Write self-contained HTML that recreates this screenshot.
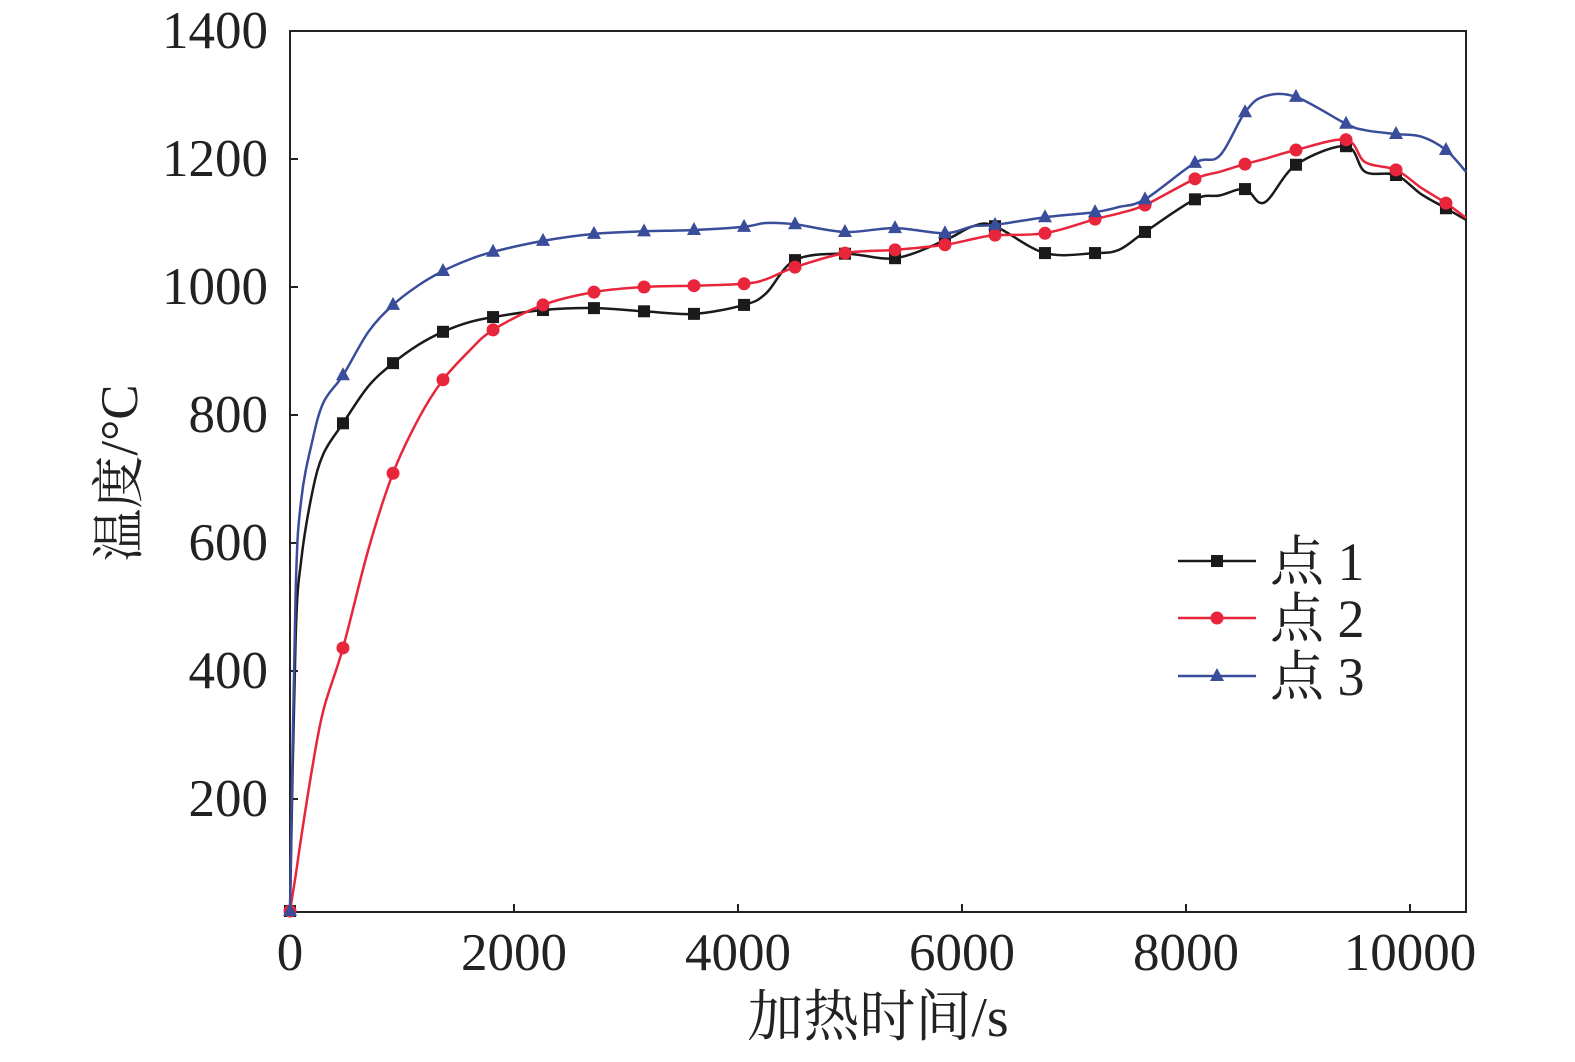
<!DOCTYPE html>
<html><head><meta charset="utf-8"><style>
html,body{margin:0;padding:0;background:#fff}
svg text{font-family:"Liberation Serif","Noto Serif CJK SC",serif;fill:#222}
</style></head><body>
<svg id="chart" width="1575" height="1057" viewBox="0 0 1575 1057" xmlns="http://www.w3.org/2000/svg">
<g id="axes"></g><g id="series"></g><g id="legend"></g>
</svg>
<script>
const xTicks=[0,2000,4000,6000,8000,10000];
const yTicks=[200,400,600,800,1000,1200,1400];
const seriesNames=["点 1","点 2","点 3"];
const seriesColors=["#1a1a1a","#e8253a","#3a4d9a"];
const markerTimes=[0,473,920,1366,1813,2259,2714,3161,3607,4054,4509,4955,5402,5848,6295,6741,7188,7634,8080,8527,8982,9429,9875,10321];
const times=[0,50,100,200,300,473,700,920,1150,1366,1600,1813,2259,2714,3161,3607,4054,4250,4509,4955,5402,5848,6100,6295,6741,7188,7400,7634,8080,8300,8527,8700,8982,9429,9600,9875,10100,10321,10500];
const s1=[25,450,573,680,740,787,845,881,910,930,945,953,964,967,962,958,972,990,1042,1052,1045,1073,1095,1095,1053,1053,1058,1086,1137,1143,1153,1132,1191,1220,1180,1175,1145,1123,1105];
const s2=[25,80,140,250,340,436,590,709,795,855,900,933,972,992,1000,1002,1005,1012,1031,1053,1058,1066,1075,1081,1084,1106,1115,1128,1169,1180,1192,1200,1214,1230,1195,1183,1155,1131,1108];
const s3=[25,520,667,760,820,862,930,972,1003,1025,1043,1055,1072,1083,1087,1089,1094,1100,1098,1086,1092,1084,1095,1097,1109,1117,1125,1137,1194,1205,1273,1298,1297,1255,1245,1239,1235,1214,1180];
const allSeries=[s1,s2,s3];
const X0=290,X1=1466,Y0=912,Y1=31,XMAX=10500,YMIN=23.4,YMAX=1400;
const xs=t=>X0+(t/XMAX)*(X1-X0);
const ys=v=>Y0-(v-YMIN)/(YMAX-YMIN)*(Y0-Y1);
const NS="http://www.w3.org/2000/svg";
function mk(tag,attrs,parent){const e=document.createElementNS(NS,tag);for(const k in attrs)e.setAttribute(k,attrs[k]);parent.appendChild(e);return e;}
const axes=document.getElementById('axes');
let frame=mk('rect',{x:X0,y:Y1,width:X1-X0,height:Y0-Y1,fill:'none',stroke:'#222','stroke-width':2},axes);


xTicks.forEach(t=>{
 let l=mk('line',{x1:xs(t),x2:xs(t),y1:Y0,y2:Y0-8,stroke:'#222','stroke-width':2},axes);
 
 
 let tx=mk('text',{x:xs(t),y:970,'font-size':53,'text-anchor':'middle'},axes);tx.textContent=t;
 
 
});
yTicks.forEach(v=>{
 let l=mk('line',{x1:X0,x2:X0+8,y1:ys(v),y2:ys(v),stroke:'#222','stroke-width':2},axes);
 
 
 let tx=mk('text',{x:268,y:ys(v)+17,'font-size':53,'text-anchor':'end'},axes);tx.textContent=v;
 
 
});
let xt=mk('text',{x:878,y:1036,'font-size':56,'text-anchor':'middle'},axes);xt.textContent='加热时间/s';


let yt=mk('text',{x:0,y:0,'font-size':53,'text-anchor':'middle',transform:'translate(137,473) rotate(-90)'},axes);yt.textContent='温度/°C';


const sg=document.getElementById('series');
function marker(i,x,y,g){
 const c=seriesColors[i];let m;
 if(i===0)m=mk('rect',{x:x-6,y:y-6,width:12,height:12,fill:c},g);
 else if(i===1)m=mk('circle',{cx:x,cy:y,r:6.5,fill:c},g);
 else m=mk('polygon',{points:`${x},${y-8} ${x-7},${y+5} ${x+7},${y+5}`,fill:c},g);
 
 
}
function smoothPath(pts){
 let d='M'+pts[0][0].toFixed(1)+','+pts[0][1].toFixed(1);
 for(let k=0;k<pts.length-1;k++){
  const p0=pts[Math.max(0,k-1)],p1=pts[k],p2=pts[k+1],p3=pts[Math.min(pts.length-1,k+2)];
  const c1=[p1[0]+(p2[0]-p0[0])/6,p1[1]+(p2[1]-p0[1])/6];
  const c2=[p2[0]-(p3[0]-p1[0])/6,p2[1]-(p3[1]-p1[1])/6];
  d+=` C${c1[0].toFixed(1)},${c1[1].toFixed(1)} ${c2[0].toFixed(1)},${c2[1].toFixed(1)} ${p2[0].toFixed(1)},${p2[1].toFixed(1)}`;
 }
 return d;
}
allSeries.forEach((s,i)=>{
 const g=mk('g',{},sg);
 
 
 const pts=s.map((v,k)=>[xs(times[k]),ys(v)]);
 mk('path',{d:smoothPath(pts),fill:'none',stroke:seriesColors[i],'stroke-width':2.5,'stroke-linejoin':'round'},g);
 times.forEach((t,k)=>{if(markerTimes.includes(t))marker(i,xs(t),ys(s[k]),g);});
});
const lg=document.getElementById('legend');


[561,618,676].forEach((y,i)=>{
 const g=mk('g',{},lg);
 
 
 mk('line',{x1:1178,x2:1256,y1:y,y2:y,stroke:seriesColors[i],'stroke-width':2.5},g);
 marker(i,1217,y,g);
 const t=mk('text',{x:1270,y:y+19,'font-size':54},g);t.textContent=seriesNames[i];
});
</script>
</body></html>
